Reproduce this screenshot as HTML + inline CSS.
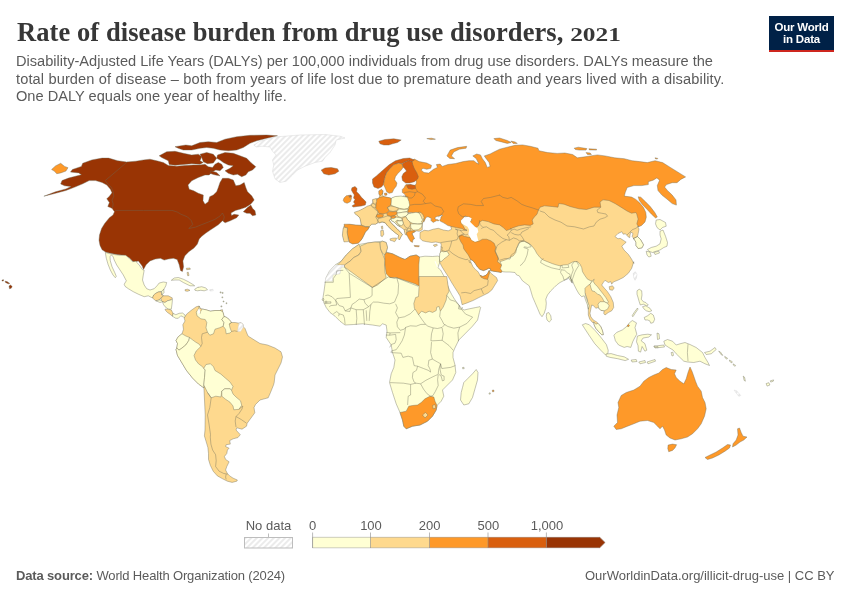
<!DOCTYPE html>
<html><head><meta charset="utf-8">
<style>
html,body{margin:0;padding:0;background:#fff;}
body{width:850px;height:600px;overflow:hidden;position:relative;font-family:"Liberation Sans",sans-serif;}
.title{position:absolute;left:16.8px;top:16.8px;font-family:"Liberation Serif",serif;font-weight:bold;font-size:26.5px;line-height:30px;color:#373737;white-space:nowrap;letter-spacing:0.078px;}
.sub{position:absolute;left:16px;top:53.2px;font-size:14.62px;line-height:17.6px;color:#5b5b5b;white-space:nowrap;}
.logo{position:absolute;left:769px;top:16px;width:65px;height:36px;background:#002147;border-bottom:2.7px solid #ce261e;box-sizing:border-box;color:#fff;font-weight:bold;font-size:11.5px;line-height:12px;text-align:center;padding-top:4.7px;letter-spacing:-0.2px;}
.foot{position:absolute;top:568.2px;font-size:13px;line-height:16px;color:#5b5b5b;white-space:nowrap;}
svg{position:absolute;left:0;top:0;will-change:transform;}
.title,.sub,.foot,.logo{will-change:transform;}
.lg text{font-size:13px;fill:#5b5b5b;font-family:"Liberation Sans",sans-serif;}
</style></head><body>
<div class="title">Rate of disease burden from drug use disorders, <span style="display:inline-block;font-size:25.4px;line-height:30px;transform-origin:0 77.8%;transform:scaleY(0.78);letter-spacing:0">2021</span></div>
<div class="sub">Disability-Adjusted Life Years (DALYs) per 100,000 individuals from drug use disorders. DALYs measure the<br><span style="letter-spacing:0.12px">total burden of disease – both from years of life lost due to premature death and years lived with a disability.</span><br>One DALY equals one year of healthy life.</div>
<div class="logo">Our World<br>in Data</div>
<svg width="850" height="600" viewBox="0 0 850 600">
<defs>
<pattern id="hatch" width="4" height="4" patternUnits="userSpaceOnUse" patternTransform="rotate(45)"><rect width="4" height="4" fill="#fff"/><line x1="2" y1="0" x2="2" y2="4" stroke="#d8d8d8" stroke-width="1"/></pattern>
</defs>
<g stroke="#6a6a58" stroke-width="0.4" stroke-linejoin="round">
<path d="M358.8,244.5 367.5,243 375,242 382.5,241.2 386.2,242.5 387.5,247.5 386.2,252 392.5,253.8 400,257.5 405,259.5 410,256.2 416.2,255 419.5,257 425,256.2 432.5,256.5 437.6,256.1 439.4,256.5 440,261.8 437.9,267.6 440.6,270 443.5,275.3 446.5,280.6 447.6,285.3 449.4,290 451.8,294.7 454.7,299.4 458.2,304.1 460.6,307.1 461.8,308.8 464.1,310 469.4,308.8 475.3,307.6 480,306.7 480.6,307.4 479.4,312.4 477.6,320 472.5,326.2 465,333.8 458.8,340 454.5,348.8 453,352.5 453,357.5 455,365 455.8,372.5 452.5,380 447.5,385 442.5,390 443.8,396.2 441.2,401.2 437,405.5 436.2,410 432.5,416.2 427.5,421.2 420,425 412.5,426.2 406.2,428.8 403.8,426.2 402.5,420 400,412.5 396.2,403.8 392.5,392.5 389.5,382.5 391.2,373.8 393.8,367.5 395,360 392.5,352.5 391.2,345 386.2,337.5 387,331.2 386.2,325 382.5,323.8 380,326.2 372.5,325 362.5,323.8 353.8,324.5 345,325 340,321.2 335,316.2 330,312.5 326.2,307.5 323.8,302.5 323,297.5 324.2,290 325,283.8 326.2,277.5 329.5,271.2 335,265 341.2,261.2 346.2,255 352.5,248.8Z" fill="#ffffd4"/>
<path d="M358.8,244.5 352.5,248.8 346.2,255 341.2,261.2 337.5,265 344.5,265 350,261.2 353.8,257.5 358.8,255 361.2,251.2 360,246.2Z" fill="#fed98e"/>
<path d="M337.5,265 335,265 329.5,271.2 326.2,277.5 325,281.2 332.5,281.2 333,275 340,273.8 341.2,267.5 344.5,267 344.5,265Z" fill="url(#hatch)" stroke="#cfcfcf"/>
<path d="M360,246.2 361.2,251.2 358.8,255 353.8,257.5 350,261.2 344.5,265 344.5,267 372.5,287.5 377.5,285 386.2,277.5 385,272.5 384.5,265 385,260 382.5,253.8 380.5,248.8 380,242.5 375,242 367.5,243Z" fill="#fed98e"/>
<path d="M380,242.5 382.5,241.2 386.2,242.5 387.5,247.5 386.2,252 384.5,255 382.5,253 380.5,248.8Z" fill="#fed98e"/>
<path d="M386.2,252.5 392.5,253.8 400,257.5 405,259.5 410,256.2 416.2,255 419.5,257 418.8,265 418.8,277.5 419.5,286.2 415,283.8 396.2,277.5 390,277.5 386.2,273.8 385,265 385,260 384.5,255.5Z" fill="#fe9929"/>
<path d="M419.1,276.5 446.8,276.5 447.9,284.7 449.1,291.2 446.8,295.3 446.2,300 443.2,307.1 440.3,311.2 439.1,306.5 436.8,307.1 436.2,310.6 432.6,312.4 429.1,311.2 425.6,312.9 421.5,311.2 418.5,314.7 416.8,311.8 414.4,308.2 413.8,303.5 415.6,297.6 418.5,296.5 419.1,285.9Z" fill="#fed98e"/>
<path d="M400,412.5 406.2,411.2 408.8,406.2 412.5,405.5 417.5,405 421.2,402.5 425,398.8 430,396.2 433.8,397 435,401.2 437,405.5 436.2,410 432.5,416.2 427.5,421.2 420,425 412.5,426.2 406.2,428.8 403.8,426.2 402.5,420Z" fill="#fe9929"/>
<path d="M422.5,415 425.5,412.5 428,415 425,418Z" fill="#fed98e"/>
<path d="M432.5,405.5 435,404.5 435.8,408 433.2,408.8Z" fill="#fed98e"/>
<path d="M463.8,382.5 467.5,378.8 472.5,373.8 476.2,369.5 478,372.5 477.5,380 475,388.8 472.5,397.5 468.8,403.8 463.8,405 460.5,400 461.2,392.5 462.5,387.5Z" fill="#ffffd4"/>
<path d="M435.1,261.2 436.2,264.1 437.6,267.4" fill="none" stroke="#fff" stroke-width="1"/>
<path d="M420,232.5 424.2,230.3 428.3,230.8 433.3,229.2 438.3,228.3 443.3,230 448.3,230.8 451.7,229.2 450.8,226.7 470,215 500,212 540,198 600,195 635,205 641,220 639,226 637.5,226 639,229 638.2,233.5 637.5,236.5 640.5,239.5 643.5,244.8 642,247.8 638.2,248.5 636,245.5 636,242.5 634.5,239.5 632.2,236.5 633,233.5 630.8,232 630,235 629.7,237.7 627.8,236.5 625.5,233.8 623.2,234.2 621.8,231.7 618,233.5 615,236.5 618,238.8 620.2,238.3 623.2,240.2 626.2,242.2 621.8,246.2 624,250 628.5,254.5 631.5,259 633.8,263.5 633.7,261.7 631.7,268.3 628.3,273.3 623.3,277.5 618.3,280 613.3,282 611.7,284.2 610.8,281.7 608.3,282.5 605.8,280.8 605,280.3 603.3,282.5 601.7,285 604.2,288 607.5,291.7 610.8,296.7 613.3,302.5 613.7,307.5 611.7,310.8 608.3,312.5 605,315 603.7,313.3 604.2,310.8 600.8,310.3 598.7,308 598,307.5 595.8,308.3 593.7,305.8 591.7,305 590.8,309.2 590,313.3 590.8,316.7 593.3,320 596.7,322 598,323.3 600.8,326.7 602.5,330.8 603.3,334.7 601.7,334.7 598.7,331.7 595.8,328.3 594.2,325 593.7,322 592.5,322.5 589.7,319.2 588.3,315 588.3,309.2 587.5,300 585,293.3 580,286.7 575.8,278.3 573.3,270 570,268.3 540,268.3 510,268.3 503.8,268.2 501.2,272.4 497.6,271.8 493.5,271.2 490.6,270.6 490.6,268.8 488.8,268.2 486.5,269.4 483.5,270.6 480,269.4 477.6,267.1 475.3,263.5 472.9,260.6 470.6,259.4 470,260 471.2,262.9 472.9,266.5 475.3,269.4 477.6,271.2 478.8,272.9 480,275.3 482.9,276.5 485.9,275.3 487.6,273.5 489.4,270.6 490.6,272.9 493.5,275.3 496.5,277.6 497.6,280.6 494.7,285.3 491.8,290 488.2,292.9 483.5,295.3 478.8,297.6 472.9,300.6 467.1,302.9 462.1,304.7 461.2,300.6 460,295.9 457.1,291.2 454.1,286.5 451.2,281.8 448.2,276.5 444.7,271.2 441.8,266.5 439.4,261.8 439.8,257.1 440.8,250 441.3,245 440.8,243 435.8,242 431.7,242.5 426.7,241.7 422.5,240.8 420,238.3Z" fill="#fed98e"/>
<path d="M459.2,235.8 461.7,234.7 464.2,236.3 467.5,237 470,237.5 471.7,240.3 475,242 478.7,241.3 482.5,239.2 486.7,239.2 490.8,240.8 494.2,243.3 495.8,247.5 495,250.8 496.7,255 498.3,258.3 497.5,261.7 500.8,264.2 503.3,267.5 502.5,270.8 503.8,268.2 501.2,272.4 497.6,271.8 493.5,271.2 490.6,270.6 490.6,268.8 488.8,268.2 486.5,269.4 483.5,270.6 480,269.4 477.6,267.1 475.3,263.5 472.9,260.6 470.6,259.4 468.3,255 465.8,251.7 463.7,248.7 463,245 460.8,241.7 459.2,238.3Z" fill="#fe9929"/>
<path d="M480,275.3 482.9,276.5 485.9,275.3 487.6,273.5 489.2,270.2 489.6,272.9 488.8,275.3 487.6,279.4 484.1,278.8 481.2,277.3Z" fill="#fe9929"/>
<path d="M439.8,253.5 441.2,251.2 443.5,251.8 447.1,251.2 449.2,254.7 446.5,257.1 444.1,258.8 441.8,261.2 440,261.8 439.4,258.2Z" fill="#ffffd4"/>
<path d="M433.3,245 436.7,244.2 437.5,245.3 434.7,246.7Z" fill="#fed98e"/>
<path d="M502.5,271.7 500.3,268.7 501.7,265 500,261.7 505,260 510,257.5 513.3,255.8 515.8,252.5 516.7,248.3 518.3,244.2 520.8,241.7 524.2,241.3 527.5,243 530.8,244.7 532.5,246.7 535,250 536.7,253.3 540,257.5 543.3,260 547.5,261.7 552.5,263.7 556.7,265 560,265.8 563.3,265 567.5,264.7 570.8,263 573.3,261.7 576.7,262 578.3,264.2 575.8,266.7 574.2,270 573.3,274.2 572.5,278.3 571.7,282.5 570,280 568.3,277.5 565.8,279.2 563.3,280.8 560,282.5 556.7,285 554.2,287.5 550.8,290.8 547.5,295 545.8,299.2 546.3,303.3 545.8,308.3 544.2,313.3 542,316.7 540,314.2 537.5,308.3 535,302.5 532.5,296.7 530.8,290.8 529.2,285.8 525.8,283.3 522.5,280.8 520.8,278.3 519.2,275.8 516.7,275 515,272.5 510,272 505.8,272Z" fill="#ffffd4"/>
<path d="M546.7,313.3 548.7,312.5 550.8,315.8 551.3,320 549.2,322 547,320 546.3,316.3Z" fill="#ffffd4"/>
<path d="M571.7,265 574.2,261.7 577.5,261.7 580,264.2 581.7,267.5 582.5,271.7 585,275.8 587.5,279.2 590.8,280.8 592.5,280.8 590,284.2 587.5,285.8 585,288.3 585,292.5 585.8,296.7 587.5,301.7 589.2,305.8 588.3,309.2 587.5,305 585.8,300.8 584.2,295.8 581.7,296.7 579.2,294.2 576.7,290 574.2,285 572.5,280.8 570.8,278.3 571.7,274.2 573.3,270Z" fill="#ffffd4"/>
<path d="M590,284.2 592.5,280.8 594.2,279.2 593.3,281.7 595,284.2 597.5,286.7 600,290 603.3,294.2 605.8,297.5 608.3,301.7 607.5,303.3 604.2,301.7 602.5,298.3 600,295 597.5,294.2 595,291.7 592,290.8 590.8,287.5Z" fill="#ffffd4"/>
<path d="M598,304.2 600,301.7 604.2,301.7 607.5,303.3 609.2,305.8 607.5,309.2 604.2,310.8 600.8,310.3 598.7,308Z" fill="#ffffd4"/>
<path d="M593.7,322 595.8,324.2 598,323.3 600.8,326.7 602.5,330.8 603.3,334.7 601.7,334.7 598.7,331.7 595.8,328.3 594.2,325Z" fill="#ffffd4"/>
<path d="M609.2,286.7 612.5,285.8 614.2,288 612.5,290.3 609.7,289.7Z" fill="#fed98e"/>
<path d="M633.3,273.3 635.3,271.7 637,274.2 636.3,278.3 635,280.3 633.7,277.5Z" fill="url(#hatch)" stroke="#cfcfcf"/>
<path d="M582.3,324.8 585.6,323.5 589.4,324.8 595.1,330.5 600.7,337.1 606.4,344.6 608.2,350.2 607.9,353.6 605.4,354.9 600.7,350.2 594.7,343.6 589,335.2 584.7,328.6Z" fill="#ffffd4"/>
<path d="M606,354 611.1,353.6 617.6,355.5 624.2,356.8 628.6,359.3 625.2,360.6 617.6,358.7 610.1,357.4 606.4,356.3Z" fill="#ffffd4"/>
<path d="M613.9,335.2 616.7,332.4 622.4,329.9 627.1,326.1 629.3,322.9 632.3,320.5 636.5,322.9 635,327.6 636.8,334.2 634.6,338 632.7,341.8 630.8,347.4 627.1,346.5 624.2,347.4 618.6,345 615.4,340.8Z" fill="#ffffd4"/>
<path d="M627.1,325.8 628.6,324.4 629.5,325.8 628,326.9Z" fill="#fe9929"/>
<path d="M637.4,336.1 642.1,334.8 647.8,334.2 651.5,334.8 648.7,337.1 643.1,338 641.2,340.8 644.9,343.6 646.8,350.2 644.9,351.2 642.1,346.5 640.6,352.1 638.4,351.2 638,345.5 636.5,341.8Z" fill="#ffffd4"/>
<path d="M657,333 659,333.8 659.5,338.8 657.5,339.5Z" fill="#ffffd4"/>
<path d="M653.8,346.2 663.8,345 664.5,347 655,348Z" fill="#ffffd4"/>
<path d="M632,315.8 634.7,311.7 637.5,308 638,309.2 635.3,313 633,316.7Z" fill="#ffffd4"/>
<path d="M637,290.8 639.2,289.2 641.7,290.8 642,295 641.3,299.2 643.3,301.7 645.8,302.5 648.3,305 646.7,305.8 643.3,304.2 640.3,305 639.2,301.7 638,297.5 637,294.2Z" fill="#ffffd4"/>
<path d="M642.5,306.7 645.8,305.8 650,308.3 651.7,310.8 649.2,311.7 646.3,310.8 644.2,309.2Z" fill="#ffffd4"/>
<path d="M644.2,317.5 647.5,315.8 650.8,313.3 653.3,315 654.7,319.2 653.3,322.5 650.8,323.3 649.7,320.8 647.5,320 645,320Z" fill="#ffffd4"/>
<path d="M631.2,360 636.2,359.5 637,361.5 632,362Z" fill="#ffffd4"/>
<path d="M638.8,362 645,360.5 645.5,362.5 640,363.8Z" fill="#ffffd4"/>
<path d="M647,362 655,359.5 655.5,361.2 648,363.8Z" fill="#ffffd4"/>
<path d="M663.8,341.2 667.5,339.5 672.5,341.2 676.2,345 680,343.8 685,342.5 690,344.5 696.2,347.5 702.5,352.5 705,357.5 708,362.5 709.5,365.5 705,363.8 700,361.2 693.8,362.5 687.5,362 683.8,361.2 680,357.5 676.2,353.8 673,350 668.8,347.5 665,345Z" fill="#ffffd4"/>
<path d="M704.5,352.5 710,351.2 715,347.5 716.2,349.5 711.2,353.8 706.2,354.5Z" fill="#ffffd4"/>
<path d="M613.8,426.2 617.5,422.5 617,415 618.8,407.5 618,402.5 621.2,395.5 626.2,392.5 633.8,390 640,386.2 643.8,381.2 648.8,377.5 653.8,375 658.8,373 662.5,369.5 666.2,367.5 671.2,369.5 676.2,370 674.5,373.8 676.2,377.5 680,381.2 683.8,383.8 686.2,378.8 688,372.5 690,367 692,371.2 693.8,376.2 695.5,381.2 697.5,386.2 701.2,391.2 702.5,397.5 705,402.5 706.2,408.8 704.5,416.2 701.2,423.8 697.5,428.8 692.5,433.8 687.5,437 681.2,438.8 675,440 670,438 666.2,435 664.5,430 662.5,426.2 660,428.8 657.5,426.2 653.8,422.5 647.5,420.5 640,421.2 633.8,423.8 627.5,426.2 621.2,428.8 616.2,429.5Z" fill="#fe9929"/>
<path d="M668.1,445.1 672.5,444.1 676.6,444.7 674.9,448.1 672.5,450.4 668.7,451.7 667.8,448.5Z" fill="#fe9929"/>
<path d="M737.5,428.8 739.5,428 741.2,432.5 743,436.2 747,437 743.8,440 740,442 736.2,445 732.5,447 733,443.8 736.2,440 738,435Z" fill="#fe9929"/>
<path d="M705,457.5 710,455 716.2,452 722.5,448 727.5,444.5 730.5,445 729.5,448 725,451.2 718.8,455 712.5,458 707.5,459.5Z" fill="#fe9929"/>
<path d="M656.2,220 660,219.5 665.5,222.5 666.2,226.2 662.5,227.5 660,230 657,227.5 655.5,223.8Z" fill="#ffffd4"/>
<path d="M660,231.2 663,230 665.5,236.2 667.5,242.5 667,246.2 663.8,247.5 660,250 656.2,251.2 652.5,252.5 648.8,251.2 647.5,249.5 651.2,247.5 656.2,246.2 660,243.8 661.2,238.8 660,235Z" fill="#ffffd4"/>
<path d="M653.8,252.5 658.8,251.2 659.5,253 655,254.5Z" fill="#ffffd4"/>
<path d="M646.2,251.2 650,252 651.2,256.2 648.8,257 647,255Z" fill="#ffffd4"/>
<path d="M633,238.8 637.5,236.5 640.5,239.5 643.5,244.8 642,247.8 638.2,248.5 636,245.5 636,242.5 634.5,239.5Z" fill="#ffffd4"/>
<path d="M414.4,159.1 419.2,161.6 426.8,163 431.6,165.4 430.7,168.3 426.8,169.3 423,168.3 421.1,169.9 424,172.5 428.7,173.1 433.5,169.3 437.4,167.4 436.4,164.5 440.2,164.1 442.2,166.4 447.9,164.5 455.6,163.5 463.2,161.6 469,160.7 473.8,160.7 476.6,163 478.9,164.1 476.3,158.7 472.8,155.9 476.6,154 480.5,154.9 482.4,158.7 485.3,162.6 487.2,167.4 490.1,166.4 489.1,162.6 486.2,158.7 484.3,155.9 490.1,154 493.9,152 499.6,149.2 507.3,147.2 515,145.3 522.6,144.9 530.3,146.3 538,148.2 538.9,150.7 547.7,152.6 557.2,153.4 564.9,153 572.6,154.5 577.4,157.8 585,156.8 590.2,155.9 597.5,154.9 605.1,155.9 614.7,157.8 624.3,158.7 632,160.7 639.6,161.6 647.3,162.6 655,160.7 662.6,162.6 670.3,167.4 678,172.2 685.6,176.9 680.8,179.4 677,182.7 672.2,182.7 666.5,184.6 664.6,187.1 667.4,190.4 672.2,195.1 676,199.9 676.4,205.1 672.2,203.6 666.9,199 661.9,195.1 658,190.6 657.3,185.6 659.6,180.2 656.9,177.9 653.1,180.2 648.3,181.7 648.3,184.6 641.6,185.6 633.9,185.6 627.2,187.5 625.3,192.3 624.3,196.1 631.6,197.1 635.8,199.4 639.6,202.8 643.5,207.6 645.8,212.4 646.3,217.2 645,222 641.6,225.4 638.7,226.8 636.8,223.9 638.1,219.1 636.8,214.3 636,212.5 631.5,213.2 627,211 621,207.2 615,203.5 609,200.5 603,199.8 600,202 600.8,207.2 594,207.2 586.5,209.5 579,208.8 570,206.5 564,204.2 558.8,203.5 558,207.2 552,206.5 544.5,205.8 540,207.2 538.3,210.5 537,214.3 534.1,217.2 532.2,220.1 533.2,223.9 530.3,225.4 524.6,224.9 518.8,225.8 513.1,227.7 509.2,229.6 506.3,230.6 503.5,227.7 499.6,224.9 493.9,223.9 488.1,221.6 482.4,220.4 479.5,222 478.6,225.8 475.7,227.7 473.8,225.8 471.3,224.9 469.4,222.9 471.9,220.1 469.9,217.2 465.1,216.2 461.3,220.1 460.9,222.9 463.2,225.8 465.1,229.6 467,230.3 463.8,229.7 462.1,228.5 459.7,228.2 456.2,227.6 451.5,226.5 447.9,225.6 445.6,224.1 443.2,222.6 440.9,221.5 439.7,220.4 440.9,218.2 440.9,216.8 442.4,215.9 442.6,215.1 440.9,215.3 439.1,215.9 436.8,216.5 435,217.6 435,218.8 436.2,219.4 437.9,219.7 438.8,220.4 438.5,220.9 436.8,220.6 435,221.5 433.2,222.4 431.8,221.2 430.6,220 431.8,219.1 430.9,218.2 428.8,217.1 426.8,216.8 425.3,218.8 424.4,220.9 423.8,222.1 422.1,219.7 419.2,216.2 416.3,214.3 411.5,212.4 407.7,212.4 405.7,207.6 406.7,203.8 406.1,200.9 405.7,198 405.4,195.1 403.8,193.6 402.3,192.5 402.3,189.4 404.2,187.5 405.2,185.6 406.1,184.4 409.6,184.6 414.4,185.6 415.7,184.6 416.3,183.3 416.3,181.4 415.3,179.4 416.3,176 414.4,171.2 413.4,167.4 411.9,163.5 411.5,160.7Z" fill="#fe9929"/>
<path d="M446.9,155.9 450.2,150.1 457.5,147.6 466.7,146.3 466.1,148.2 459.4,149.2 453.7,152 451.4,155.9 454.6,158.7 449.8,158.4Z" fill="#fe9929"/>
<path d="M493.9,138.6 499.6,138 507.3,140.5 511.1,142.5 507.3,143.4 501.6,141.9 495.8,140.5Z" fill="#fe9929"/>
<path d="M510.8,141.1 515,141.9 517.3,143.4 513.1,143.4Z" fill="#fe9929"/>
<path d="M426.8,138.6 431.6,138.2 435.4,139.2 430.7,139.6Z" fill="#fe9929"/>
<path d="M638.2,196.8 640.8,197.2 645.8,202 650.2,206.5 654.8,212.5 657.3,217 655.5,217.9 651.3,214 647.2,209.5 642.8,205 639.3,200.5Z" fill="#fe9929"/>
<path d="M574.1,148.2 578.3,147.2 586.9,148.6 586,150.1 579.3,150.1 575.4,149.5Z" fill="#fe9929"/>
<path d="M588.9,148.8 596.5,149.2 596.5,150.1 589.4,149.9Z" fill="#fe9929"/>
<path d="M586,152.6 590.2,153 591.4,154.5 587.5,154.5Z" fill="#fe9929"/>
<path d="M655,157.8 657.8,158.4 657.3,159.1 655.4,158.7Z" fill="#fe9929"/>
<path d="M344,225.8 349.5,224.6 355.8,225.4 361.4,225.4 360.9,221 360.1,217.8 357.7,215.8 355.5,213.4 359,211.5 363.8,208.8 367.7,206.8 370.9,205.6 372.8,202.3 372.9,200.1 376.4,199 379.6,197.9 379.6,194.1 379.3,191.4 381.5,190 382.8,191.2 382.4,194.4 383.5,196.9 387.5,197.7 391.5,198.5 395.4,196.9 401,196.5 407.3,197.7 408.4,202 408.9,208.3 407.8,211.5 408.1,214.2 411.3,213.4 416,212.6 420,213.4 422.3,216.3 423.9,219.4 422.3,224.2 422.3,229.7 419.2,231.3 416,230.8 414.1,232.4 412,233.2 412.8,236 414.1,238.9 412,239.5 410,238.1 408.4,235.3 405.6,234.1 404.4,230 402.5,228.4 400.2,226.9 397.3,225.1 394.2,222.1 391.8,220.8 391,218.9 389.4,220.4 391,222.6 394.2,225.8 397.3,228.9 400.5,232.1 402.2,234.5 400.8,236.5 399.5,239.4 398.3,238.1 398.9,235.3 395.7,233.2 391.8,230 387.8,226.1 385.3,222.9 382.1,222.1 379.7,222.9 378,222.6 375.6,223.9 371.7,223.9 369.5,226.4 367.9,229.4 365.5,231.9 363.9,235.1 362.3,238.3 360.7,240.5 358.4,242.7 353,243.5 349.8,242.1 348.2,236.8 344,240 342.9,235.3 343.5,228.4Z" fill="#fed98e"/>
<path d="M372.5,179 376.4,175.9 382.8,170.3 389.1,164.8 395.4,160.8 403.3,158.5 409.7,158 414.4,160 412,161.6 408.1,160.8 404.1,162.4 401.8,163.7 398.6,163.2 393.8,164.8 389.9,168.8 386.7,172.7 385.1,176.7 384.3,180.6 383.5,184.6 381.5,187 378,188.5 374,187 372.5,183Z" fill="#d95f0e"/>
<path d="M401.8,163.7 403.3,167.2 401,170.3 397.8,173.5 395.4,176.7 394.6,179.8 397,183 396.2,186.2 393.8,189.3 392.3,192.5 389.1,193.3 386.7,191.7 385.1,187.8 383.5,184.6 384.3,180.6 385.1,176.7 386.7,172.7 389.9,168.8 393.8,164.8 398.6,163.2Z" fill="#fe9929"/>
<path d="M404.1,162.4 408.1,160.8 412,161.6 412.8,164.8 414.4,168.8 416.8,172.7 418.4,176.7 417.6,179 414.4,181.7 409.7,183 405.7,183 402.5,180.6 401.8,176.7 403.3,173.5 406.5,171.1 404.9,168.8 403.3,167.2 402.1,164Z" fill="#d95f0e"/>
<path d="M406.5,185.4 410.5,184.6 415.2,185.4 415.7,188.5 412,189.3 408.1,188.5Z" fill="#d95f0e"/>
<path d="M378.8,190.9 381.5,189.3 383.1,190.9 382.4,194.1 380.4,195.7 378.8,194.1Z" fill="#fe9929"/>
<path d="M384.3,193.3 386.7,193 387,195 384.8,195.4Z" fill="#fe9929"/>
<path d="M351.9,187.8 355,186.5 357.1,188.5 356.6,191.7 359,194.1 361.4,197.3 363.8,199.6 366.1,202 365.3,204.9 361.4,206 357.4,206.4 353.5,207.1 351.9,206 355,203.9 353.5,202 355,199.6 353.5,198 354.3,194.9 352.7,192.5 351.4,190.1Z" fill="#d95f0e"/>
<path d="M348.7,195.4 351.1,195 351.7,196.9 349.5,197.6Z" fill="#d95f0e"/>
<path d="M344,198 346.3,195.7 348.7,195.4 349.5,197.6 351.4,197.3 351.4,198.8 350.3,201.7 347.1,203.3 344.4,202.3 343.2,200.4Z" fill="#fe9929"/>
<path d="M354.3,212.3 359,210.7 363.8,208.3 367.7,206 370.9,205.2 373.3,207.5 375.6,209.9 378,211.5 377.2,214.7 375.6,217 377.2,219.4 378,222.6 375.6,224.2 371.7,224.2 369.3,226.5 365.3,226.5 361.4,225 360.6,221 359.8,217.8 357.4,215.5 355,213.9Z" fill="#fed98e"/>
<path d="M344,224.2 349.5,224.2 355.8,225 361.4,225.4 365.3,226.9 369.3,227 367.7,229.7 365.3,232.1 363.8,235.3 362.2,238.4 360.6,240.8 358.2,243.2 352.7,244 349.5,242.4 347.9,236.8 347.1,232.1 347.6,228.1 344.8,227.3Z" fill="#fe9929"/>
<path d="M343.2,228.1 344.8,227.3 347.6,228.1 347.1,232.1 347.9,236.8 348.7,241.6 344,241.9 342.4,235.3Z" fill="#fed98e"/>
<path d="M376.7,199.6 379.6,197.3 383.5,196.5 387.5,197.3 390.7,198 391.5,202 390.7,205.2 387.5,207.5 389.1,210.7 386.7,213.1 382.8,213.9 378.8,213.4 377.7,210.7 375.6,208.3 376.1,204.4 375.6,201.2Z" fill="#fe9929"/>
<path d="M372.5,199.6 376.4,198.5 376.7,201.2 375.6,204.4 373.3,203.6Z" fill="#fed98e"/>
<path d="M370.9,204.4 373.3,203.6 375.6,204.9 375.6,207.5 372.5,207.1Z" fill="#fed98e"/>
<path d="M391.5,198 395.4,196.5 401,196 407.3,197.3 408.9,201.2 409.7,205.2 408.1,208.3 404.1,209.1 399.4,208.3 394.6,206.8 391,205.2Z" fill="#ffffd4"/>
<path d="M387.5,207.5 390.7,206 394.6,206.8 398.6,208.3 396.2,210.7 393,211.5 389.4,210.7Z" fill="#fed98e"/>
<path d="M386.7,213.4 389.1,211.5 393,211.8 396.7,211.5 397,213.9 394.6,215.5 390.7,216.3 387.5,215.5Z" fill="#fe9929"/>
<path d="M376.7,214.7 380.4,213.9 383.5,214.7 382.8,217 378.8,217.8 376.4,217Z" fill="#fe9929"/>
<path d="M396.7,211.2 399.4,209.1 404.1,209.6 408.1,209.1 407.3,211.5 402.5,212.3 397.8,213.1Z" fill="#ffffd4"/>
<path d="M397,213.9 397.8,213.1 402.5,212.3 407.3,211.8 408.1,213.9 405.7,216.3 401,217.5 397.8,216.3Z" fill="#ffffd4"/>
<path d="M390.7,216.6 394.6,215.8 396.2,217 393.8,218.6 391,218.2Z" fill="#fe9929"/>
<path d="M391,218.6 393.8,218.6 396.2,217.2 401,217.8 402.5,220.2 399.4,220.7 397,220.2 395.4,221.8 397.8,224.2 400.2,226.5 397,225 393.8,221.8 391.5,220.7Z" fill="#ffffd4"/>
<path d="M378,218.6 382.8,217.5 387.5,215.9 390.7,216.6 391,218.6 389.1,220.2 390.7,222.6 393.8,225.8 397,228.9 400.2,232.1 402.5,234.5 401,236.8 399.4,240 397.8,238.4 398.6,235.3 395.4,232.9 391.5,229.7 387.5,225.8 385.1,222.6 382,221.8 379.6,222.6 378,221Z" fill="#fed98e"/>
<path d="M380.7,230.7 383.3,230.3 383.8,234.2 382.4,236.6 380.9,236.1Z" fill="#fed98e"/>
<path d="M381.2,226.5 382.5,226 382.9,228.6 381.9,229.5Z" fill="#fed98e"/>
<path d="M389.9,238.9 392.7,238.2 396.5,238 396,239.9 394.6,241.8 392.2,240.8 390.4,240.4Z" fill="#fed98e"/>
<path d="M414.1,245.4 419.4,245.8 418.8,246.8 414.7,246.5Z" fill="#fe9929"/>
<path d="M408.1,213.9 411.3,213.1 416,212.3 420,213.1 422.3,216.3 423.9,219.4 421.5,221 422.3,223.4 417.6,223.9 412.8,223.4 409.7,221.8 407.3,219.4 405.7,216.6Z" fill="#ffffd4"/>
<path d="M410.5,223.9 414.4,223.9 419.2,224.2 422.3,223.9 421.5,227.3 418.4,229.7 413.6,230.2 410.9,228.1Z" fill="#ffffd4"/>
<path d="M402.5,218.2 405.7,216.6 407.3,219.4 409.7,221.8 410.5,223.9 409.7,226.5 407.3,228.1 404.9,226.5 403.3,223.4 402.5,220.7Z" fill="#fed98e"/>
<path d="M397,220.7 399.4,221 402.5,220.7 403.3,223.4 401.8,225.8 399.4,225 397.3,222.9Z" fill="#ffffd4"/>
<path d="M404.1,229.7 406.2,228.9 406.8,231.8 407.3,235.3 405.2,234.5Z" fill="#fed98e"/>
<path d="M407.3,228.6 410.5,228.1 410.9,230.2 407.8,231.3Z" fill="#fed98e"/>
<path d="M406.5,232.5 408.2,231.5 411.1,230.9 414.4,230.6 415.3,231.5 412.9,232.5 412,233.9 413.4,236.2 414.6,238.6 412.9,239.5 412.5,242.4 410.6,241.4 408.7,238.6 407.3,235.8 406.4,233.9Z" fill="#fe9929"/>
<path d="M404.1,192.5 409.7,191.7 415.2,192.5" fill="none"/>
<path d="M415.2,192.5 414.4,195.7 412,198 409.7,198" fill="none"/>
<path d="M415.7,188.5 417.6,191.7 415.2,192.5" fill="none"/>
<path d="M403.3,195.7 407.3,196.5 409.7,198" fill="none"/>
<path d="M417.6,191.7 422.3,194.1 425.5,198 423.1,201.2 425.5,203.6" fill="none"/>
<path d="M409.7,205.2 414.4,204.4 420.8,204.4 425.5,203.6" fill="none"/>
<path d="M425.5,203.6 431,202.8 435,206 441.3,207.5 443.7,211.5 441.3,214.7 438.2,217" fill="none"/>
<path d="M418.5,212.1 420.9,212.4 423.2,215 424.1,217.6 423.8,219.1 422.1,219.4 421.2,216.8 420,214.4Z" fill="#fed98e"/>
<path d="M343.3,270.3 336.8,270.9 336.2,274.4 333.3,278.5 333.3,282.3 324.5,282.3" fill="none"/>
<path d="M344.1,266.8 349.2,273.2 350.4,297.4 336.8,298.5 335.6,300.3" fill="none"/>
<path d="M335.6,300.3 332.1,296.8 328,295 325.3,295.6" fill="none"/>
<path d="M349.2,273.2 372.1,287.4 388.6,276.8" fill="none"/>
<path d="M372.1,287.4 372.1,295.6 369.8,297.4 363.9,299.7" fill="none"/>
<path d="M363.9,299.7 359.2,299.1 355.6,302.1 352.1,304.4 350.9,307.9" fill="none"/>
<path d="M350.9,307.9 349.8,311.5 345.1,310.9 343.3,306.8 339.2,305.6 335.6,300.3" fill="none"/>
<path d="M396.8,277.9 398.6,284.4 398,293.8 394.5,302.1" fill="none"/>
<path d="M394.5,302.1 389.8,303.8 383.9,303.2 378,302.1 373.3,302.1 370.9,304.4" fill="none"/>
<path d="M370.9,304.4 368.6,306.8 365.1,303.2 363.9,299.7" fill="none"/>
<path d="M388.6,276.8 394.5,278.5 396.8,277.9 418,286.2" fill="none"/>
<path d="M335.6,300.3 336.8,305 330.9,305.6 329.2,306.8" fill="none"/>
<path d="M324.5,302.1 330.9,301.8 330.9,303.2 324.5,303.5" fill="none"/>
<path d="M333.3,313.8 336.8,311.5 339.2,313.8 338.6,316.2" fill="none"/>
<path d="M339.2,313.8 343.3,315 344.5,318.5 345.1,324.4" fill="none"/>
<path d="M345.1,310.9 350.9,307.9 356.2,309.7 363.3,309.7 368.6,306.8" fill="none"/>
<path d="M356.2,309.7 356.8,318.5 356.2,325" fill="none"/>
<path d="M363.3,309.7 364.5,325" fill="none"/>
<path d="M366.2,310.3 366.8,320.9" fill="none"/>
<path d="M370.9,304.4 369.8,311.5 369.2,320.9" fill="none"/>
<path d="M446.8,295.3 450.3,300 455,301.2 459.1,305.3 460.3,308.8" fill="none"/>
<path d="M459.1,305.3 458.5,308.8 461.5,309.4 462.6,307.1" fill="none"/>
<path d="M461.5,309.4 465.6,314.1 472.6,317.1 466.8,323.5 459.7,327.1" fill="none"/>
<path d="M459.7,327.1 453.8,328.2 447.9,326.5 443.8,324.1" fill="none"/>
<path d="M440.3,311.2 439.7,316.5 442.1,320.6 443.8,324.1" fill="none"/>
<path d="M459.7,327.1 457.9,332.9 458.5,341.2" fill="none"/>
<path d="M391.2,352.6 401.2,353.2 402.9,357.4 408.2,356.2 412.4,357.4 414.1,365.6 417.6,366.2" fill="none"/>
<path d="M417.6,366.2 416.5,370.3 412.9,372.6 412.4,377.4 414.1,382.1 415.9,383.2" fill="none"/>
<path d="M390,382.6 403.5,383.2 410.6,384.4 415.9,383.2 420.6,383.8" fill="none"/>
<path d="M417.6,366.2 423.5,368.5 428.2,370.3 430.6,372.1 430,369.1 428.2,365.6 428.8,360.3 432.4,359.1" fill="none"/>
<path d="M432.4,359.1 430.6,352.6 431.2,346.8 431.5,342.1" fill="none"/>
<path d="M441.8,368.5 450.6,367.4 455.3,365.6" fill="none"/>
<path d="M432.4,359.1 437.6,362.1 440.6,363.8 441.8,368.5" fill="none"/>
<path d="M440.6,363.8 440,369.1 441.2,375 444.1,376.2 444.1,380.3 442.4,380.9 441.2,376.2 438.2,373.8 438.8,369.1 440.6,363.8" fill="none"/>
<path d="M420.6,383.8 425.9,380.3 430.6,377.9 435.3,375.6 438.2,374.4" fill="none"/>
<path d="M438.2,375 437.6,379.7 438.2,385.6 435.3,391.5 432.9,395.6" fill="none"/>
<path d="M420.6,383.8 423.5,389.1 427.1,393.8 430.6,396.2 432.9,395.6" fill="none"/>
<path d="M410.6,384.4 410.6,395 408.2,396.2 407.6,405" fill="none"/>
<path d="M395.6,303.8 397.4,307.9 395.6,312.6 398.5,317.9 396.8,322.1 397.4,326.8 400.3,330.3" fill="none"/>
<path d="M386.5,332.4 390.3,332.9 400.3,332.6" fill="none"/>
<path d="M385.8,335 389.7,335.2 390.1,332.9" fill="none"/>
<path d="M389.7,335.2 395.6,334.4 396.2,339.7 395,343.2 391.5,344.4 389.7,347.4" fill="none"/>
<path d="M400.3,330.3 404.4,329.1 405.6,327.4" fill="none"/>
<path d="M405.6,327.4 404.4,335 402.1,340.9 399.1,345.6 396.2,349.7 391.5,350.9 390.9,352.6" fill="none"/>
<path d="M398.5,317.9 404.4,316.8 410.3,313.8 415,309.1" fill="none"/>
<path d="M405.6,327.4 410.3,325.8 416.2,326.2 420.9,324.4 425.6,324.4 427.9,326.2 433.2,327.9" fill="none"/>
<path d="M418.5,314.4 422.1,319.7 425.6,324.4" fill="none"/>
<path d="M433.2,327.9 437.4,328.5 442.1,327.4 445,324.4" fill="none"/>
<path d="M433.2,327.9 431.5,333.8 430.9,340.9" fill="none"/>
<path d="M442.1,327.9 443.2,333.8 442.1,340.3" fill="none"/>
<path d="M430.9,340.9 442.1,340.3" fill="none"/>
<path d="M442.1,340.3 449.1,345.6 453.2,350.3" fill="none"/>
<path d="M499.4,195 502.9,197.4 507.6,198.5 511.2,197.4 517.1,200.9 521.8,204.4 526.5,206.2 532.4,207.9 537.6,209.7 539.4,210.3" fill="none"/>
<path d="M482.9,227.4 486.5,226.8 490,229.1 493.5,230.3 498.2,235 502.9,238.5 506.5,239.7" fill="none"/>
<path d="M479.4,220.3 480,224.4 482.9,227.4 481.2,229.1" fill="none"/>
<path d="M497.1,245.6 501.8,242.1 506.5,239.7" fill="none"/>
<path d="M506.5,239.7 509.4,240.3 508.8,236.8 507.1,235 509.4,233.2 511.2,230.3 510.6,227.9" fill="none"/>
<path d="M511.2,230.3 514.1,229.1 517.1,230.3 520.6,229.1 525.3,227.9 531.2,226.8" fill="none"/>
<path d="M511.2,232.6 514.7,234.4 518.2,235 520.6,234.4 521.8,232.1 525.3,230.3 528.8,228.5" fill="none"/>
<path d="M509.4,240.3 513.5,237.9 517.1,239.1 519.4,240.9 524.1,240.3 522.4,237.4 520.6,235" fill="none"/>
<path d="M499.4,260.3 505.3,258.5 510,259.1 511.2,255 514.7,252.6 516.5,248.5 518.2,245.6 519.4,242.1 524.1,240.9" fill="none"/>
<path d="M497.1,245.6 495.3,251.5 497.6,256.2 498.8,260.3" fill="none"/>
<path d="M524.1,240.9 528.8,243.2 531.2,246.8 527.6,247.4 524.1,246.8" fill="none"/>
<path d="M540,211 544.5,212.5 549,217 555,220 561,222.2 567,226 574.5,226.8 583.5,229 589.5,226.8 594,226 596.2,222.2 600,219.2 604.5,217.8 607.5,216.2 606,214 601.5,213.2 597.8,212.5 597,210.2 600.8,207.2" fill="none"/>
<path d="M639,226 636,228.2 632.2,229.8 629.2,232.8 627,235" fill="none"/>
<path d="M633,238.8 637.5,236.5" fill="none"/>
<path d="M543.5,258.5 541.2,260.3 540.6,262.6 545.9,265.6 551.8,267.9 560,269.7 560.6,265.6" fill="none"/>
<path d="M561.8,265 562.4,267.9 568.8,267.4 568.2,265" fill="none"/>
<path d="M561.2,269.7 560.6,272.6 562.9,276.2 564.1,280.3 567.6,279.1 569.4,276.2 571.8,280.9 572.4,283.2 570.6,278.5 570,274.4 567.1,272.6 564.7,270.3 561.2,269.7" fill="none"/>
<path d="M576.5,261.1 578.8,265.6 576.5,269.1 574.7,272.6 573.5,276.2 571.8,280.9" fill="none"/>
<path d="M523.5,247.4 528.2,249.1 527.1,255 524.7,260.9 521.2,265 520,265.6" fill="none"/>
<path d="M465.9,216.2 462.4,216.8 458.8,213.8 457.6,210.3 458.2,206.8 463.5,203.8 470.6,204.4 476.5,205.6 483.5,205.6 481.2,201.5 483.5,198.5 490.6,197.4 500,195" fill="none"/>
<path d="M455.3,229.1 457.6,230.3 457.1,233.8 458.2,236.8 457.1,239.7" fill="none"/>
<path d="M455.3,229.1 460,230.3 463.5,230.3 467.1,230.3" fill="none"/>
<path d="M460,230.3 462.4,232.6 464.1,235" fill="none"/>
<path d="M458.2,236.8 461.2,235.6 463.5,233.8 465.9,235 468.8,233.8" fill="none"/>
<path d="M440.6,242.6 447.1,241.5 451.8,240.9 457.1,239.7" fill="none"/>
<path d="M451.8,240.9 450.6,245.6 448.8,250.3 445.3,251.5" fill="none"/>
<path d="M448.8,250.3 452.9,253.8 458.8,257.4 465.9,259.7 468.2,259.1" fill="none"/>
<path d="M440.6,246.8 442.4,247.4 441.8,250.3 445.3,251.5" fill="none"/>
<path d="M461.2,292.9 465.3,292.4 470.6,293.5 474.1,290.6 481.2,288.8" fill="none"/>
<path d="M483.5,294.1 481.2,288.8 487.6,285.3 488.2,280.6 487.6,279.4" fill="none"/>
<path d="M468.8,260 469.4,262.4 471.2,262.9" fill="none"/>
<path d="M9,286 10.5,285 12.2,286.5 11.2,288.2 9.5,288.8Z" fill="#993404"/>
<path d="M5,281.2 7,281.6 9.8,283.4 8.2,283.8 5.5,282.4Z" fill="#993404"/>
<path d="M2,280 3.6,279.7 3.4,281 2,281.1Z" fill="#993404"/>
<path d="M688,344.1 687.4,352.6 688,361.1" fill="none"/>
<path d="M718.7,351.1 720.6,352.2 722.8,355.4 721.3,354.8Z" fill="#ffffd4"/>
<path d="M724.7,356.4 727.5,358.2 727,359.2 725.1,357.9Z" fill="#ffffd4"/>
<path d="M729.4,360.1 732.2,361.6 731.9,362.9 729.8,361.6Z" fill="#ffffd4"/>
<path d="M733.2,363.9 735.6,365.4 735.1,366.3 733.4,365.2Z" fill="#ffffd4"/>
<path d="M743.2,376.1 744.5,377.1 745.4,381.2 744.1,380.4Z" fill="#ffffd4"/>
<path d="M734.1,390.2 736.4,390.6 740.7,395.5 738.8,396.3Z" fill="url(#hatch)" stroke="#cfcfcf"/>
<path d="M766.1,383.6 768.9,382.7 769.9,385 767.1,386.1Z" fill="#ffffd4"/>
<path d="M770.3,380.8 773.6,379.9 773.3,381.2 770.8,382.1Z" fill="#ffffd4"/>
<path d="M671.1,352.6 672.9,352.2 673.5,355.4 672,356Z" fill="#ffffd4"/>
<path d="M654.1,346 657.9,346.6 658.1,347.7 654.7,347.3Z" fill="#ffffd4"/>
<path d="M220.1,291.9 221.1,291.9 221.1,292.9 220.1,292.9Z" fill="#ffffd4"/>
<path d="M222.1,292.4 223.1,292.4 223.1,293.4 222.1,293.4Z" fill="#ffffd4"/>
<path d="M221.9,296.9 222.8,296.9 222.8,297.8 221.9,297.8Z" fill="#ffffd4"/>
<path d="M223.1,301 224,301 224,301.9 223.1,301.9Z" fill="#ffffd4"/>
<path d="M226,302.8 226.9,302.8 226.9,303.7 226,303.7Z" fill="#ffffd4"/>
<path d="M220.9,305.9 221.9,305.9 221.9,306.9 220.9,306.9Z" fill="#ffffd4"/>
<path d="M198.2,286.8 198.8,290.3" fill="none"/>
<path d="M322,299 323.5,298.5 324,300 322.5,300.5Z" fill="#ffffd4"/>
<path d="M325,301.5 326.5,301 327,302.5 325.5,303Z" fill="#ffffd4"/>
<path d="M492.3,390.2 493.8,390 494,391.6 492.5,391.8Z" fill="#fe9929"/>
<path d="M462.5,367.5 464,367.3 464.2,368.6 462.7,368.8Z" fill="#ffffd4"/>
<path d="M489,393 490.2,392.8 490.4,394 489.2,394.2Z" fill="#ffffd4"/>
<path d="M43.9,196.2 55.5,193.3 65.9,190.5 74.9,187.1 82.7,183.8 89.2,180.6 95.6,180.6 102.1,182.5 106.8,185 110.4,189.2 112,192.8 109.4,196.2 106.8,198.8 109.4,202.6 107.8,206.5 112,208.3 114.5,211.7 113,215.1 109.4,217.7 104.7,223.4 101.6,228.5 99.5,235 99,240.2 100,245.4 102.1,249.8 106,252.3 116.4,254.4 124.1,255.2 129.3,257.8 133.7,262.2 138.4,260.9 142.2,266.1 143.5,269.4 146.1,264.8 150,260.9 155.2,259.1 160.4,258.3 164.2,260.1 168.1,259.1 173.3,258.3 177.2,259.6 179.2,264.8 180.5,270.5 182.4,271.5 183.6,266.8 182.9,260.9 184.9,255.7 188.8,251.8 194,247.9 197.4,244.1 199.2,238.9 201.8,236.3 205.6,233.2 209.5,230.6 213.4,228 218.6,224.6 222.5,220.8 225.1,222.8 230.2,220.8 236.7,217.7 238.8,215.1 234.1,214.3 231.5,215.6 231,213 235.4,210.4 240.6,209.1 245.8,207.3 250.9,203.9 254.2,200 251.7,195.8 247.5,191.7 245.8,187.5 244.2,182.5 240,185 235.8,185.8 233.3,180 228.3,178.3 222.5,178.3 220,182.5 218.3,187.5 216.7,191.7 213.3,195 209.7,196.7 208.3,201.7 205,204.2 203,200.8 203.3,195 198.3,193.3 193.7,190.8 189.2,189.2 188,185 191.7,180.8 198.3,177.5 205,175 209.2,175 212.5,171.7 215.8,170 220,170.8 223.3,167.5 221.7,164.2 218.3,162.5 215,164.2 212.5,167.5 208.3,166.7 205,164.2 200,165 193.3,165 185,165.5 176.7,166.2 168.3,165.5 163.3,162.5 156.7,160.8 150,159.2 143.5,159.9 135.8,161.2 126.7,162 117.6,160.7 108.6,158.1 102.1,158.1 91.8,159.9 82.7,163.3 81.4,166.4 72.4,169.5 70.5,172.1 78.8,172.9 81.4,174.7 68.5,178.1 62,180.6 60.7,184 64.6,185.8 71.1,186.6 65.9,188.9 55.5,191.8Z" fill="#993404"/>
<path d="M159.2,155.8 166.7,151.7 175,151.3 183.3,153.3 191.7,155 198.3,154.2 201.7,156.7 200,160.8 203.3,162.5 200,164.3 191.7,163.7 183.3,164.5 175,165.2 169.2,164.5 168.3,160.8 161.7,157.5Z" fill="#993404"/>
<path d="M175,146.7 185.8,145 191.7,145.8 200,142.5 208.3,141.7 216.7,142.5 225,139.2 236.7,136.7 250,135.3 266.7,135 277.5,135.8 266.7,138.3 256.7,140.8 250,143.3 243.3,147.5 236.7,150 228.3,150.8 220,150 213.3,148.3 206.7,147.5 200,148.3 191.7,150 183.3,150 178.3,148.3Z" fill="#993404"/>
<path d="M217.5,155 225,152.5 233.3,153.3 240,155.8 246.7,158.3 250.8,162.5 255.8,166.7 252.5,170 248.3,171.7 245.8,175 241.7,176.7 237.5,174.2 233.3,175 228.3,173.3 225,170.8 230,168.3 233.3,165.8 228.3,165 223.3,162.5 220,160 216.7,158.3Z" fill="#993404"/>
<path d="M200,154.2 206.7,152.5 213.3,154.2 216.7,158.3 213.3,163 207.5,163.7 203.3,161.7 201.7,157.5Z" fill="#993404"/>
<path d="M210.8,170.8 216.7,172.5 220,175.8 216.7,175.3 213.3,174.5 210,173.3Z" fill="#993404"/>
<path d="M243.3,211.7 247.5,207.5 250.8,205 252.5,208.3 255,210.8 255.8,215 252.5,215.8 250,213.3 246.7,213.3Z" fill="#993404"/>
<path d="M253.8,145 260,141.2 275,137 300,135 325,134.5 340,136.2 345,138 336.2,140 335,145 330,152.5 325,157.5 322.5,161.2 315,162.5 305,166.2 297.5,170 292.5,175 286.2,181.2 280,182.5 275,178.8 272.5,171.2 273.8,165 272.5,160 276.2,155 272.5,151.2 270,147 262.5,146.2 256.2,147Z" fill="url(#hatch)" stroke="#cfcfcf"/>
<path d="M321.2,170 325,168 331.2,167.5 337.5,168.8 338.8,171.2 335,173.8 328.8,175 323.8,173.8Z" fill="#d95f0e"/>
<path d="M378.8,141.2 385,139.5 393.8,138.8 401.2,140 397.5,142.5 392.5,143.8 388.8,145 383.8,145 380,143.8Z" fill="#d95f0e"/>
<path d="M51.6,169.5 55.5,165.9 60.7,163.3 64.6,166.4 68,167.7 65.9,171.1 60.7,172.9 56.8,173.7 54.2,171.1Z" fill="#fe9929"/>
<path d="M127.2,162 105.2,180.6 107.8,184 111.2,187.1 113.2,191.8 113.8,196.2 112,200.1 113.2,203.9 112.5,207.8" fill="none"/>
<path d="M115.1,210.4 143.5,210.4 172,210.4 177.2,212 181.1,214.3 187.5,216.9 191.4,220.8 192.7,224.6 188.8,228.5 195.3,227.2 201.8,224.6 208.2,222.1 214.7,219.5 219.9,216.1 222.5,213 224.3,216.9 223.2,221.3" fill="none"/>
<path d="M105.3,252.5 111.7,254.2 120,255.3 125.8,255.3 129.2,258.3 132.5,261.7 135.8,261.3 139.2,265 142.5,269.7 144.2,270.3 143.3,275 142.5,280 144.2,285 146.7,288.7 150,290 154.2,288.7 157,285.8 159.2,283 163.3,282 166.7,282.5 165.8,285.8 163.7,289.7 162.5,291.3 158.3,292 155.8,293.3 153.7,295 152.5,298 148.3,295.8 144.2,296.7 138.3,294.2 133.3,291.7 128.3,288.7 125,286.3 124.2,284.2 126.3,280.8 123.3,275 120,270 116.7,265 114.2,260 113,256.3 111.3,255 110,256.7 110.3,260.8 112,266.7 114.7,272.5 116.3,276.3 115.3,277.7 113,275 110.3,270 108,264.2 106.3,258.3Z" fill="#ffffd4"/>
<path d="M152.5,298 153.7,295 155.8,293.3 158.3,292 161.3,291.7 161.7,295 163.7,295.8 160.8,298 159.2,300 155.8,300.8Z" fill="#fed98e"/>
<path d="M160.8,298 163.7,295.8 168.3,295.8 172.5,298 170.8,300 167.5,300.8 165,302.5 162.5,301.7 161.3,300.3Z" fill="#fed98e"/>
<path d="M155.8,300.8 159.2,300 161.3,300.3 162.5,301.7 160,302.5Z" fill="#ffffd4"/>
<path d="M161.7,291.3 163.7,289.2 164,292.5 162,295Z" fill="#ffffd4"/>
<path d="M162.5,301.7 165,302.5 167.5,300.8 170.8,300 172.5,299.2 172,304.2 171.3,309.2 168.3,309.2 165,306.7 163.3,304.2Z" fill="#ffffd4"/>
<path d="M165,309.2 168.3,309.2 171.3,310 173,313.3 172.5,316.3 170,314.2 167.5,312.5 165.8,310.8Z" fill="#fed98e"/>
<path d="M172.5,316.3 173,313.3 175.8,314.7 179.2,313.3 182.5,313 185,315 185.8,318.3 183.3,317 180.8,315.8 178.3,318.3 175.8,318.3Z" fill="#ffffd4"/>
<path d="M171.3,280.3 174.2,278 178.3,277.5 183.3,279.2 188.3,281.7 193.3,284.7 194.7,285.8 190,285.8 186.7,284.2 183.3,282.5 179.2,280 175,280Z" fill="#ffffd4"/>
<path d="M185,289.7 187.5,289.2 190,290.3 187.5,291.3 185.3,291Z" fill="#fed98e"/>
<path d="M194.7,289.2 197.5,287.5 201.7,286.7 205.8,288 207.5,289.7 204.2,290.8 200.8,290.3 197.5,290.8 195,290.3Z" fill="#ffffd4"/>
<path d="M209.7,289.7 213,289.3 213.3,290.7 210,291Z" fill="url(#hatch)" stroke="#cfcfcf"/>
<path d="M186.3,268.3 190,268 190.3,269.3 186.7,269.7Z" fill="#fed98e"/>
<path d="M187,272.5 188.3,272.2 189,275.5 187.7,275.8Z" fill="#fed98e"/>
<path d="M220.3,310 222.5,309.7 222.7,311.7 220.7,311.7Z" fill="#fed98e"/>
<path d="M184.2,318 186.5,314.2 191,310.5 196.2,306.8 199.2,306 200,308.2 202.2,309 206,309.8 210.5,311.2 215,310.5 221,310.5 223.2,312.8 224,316.5 226.2,317.2 229.2,319.5 231.5,322.5 235.2,322.5 239,323.2 240.5,322.5 242.8,324 243.5,327 245,328.5 248,336 254,339.8 260,343.5 267.5,345 275,348 281,351.8 282.5,357 281,363 278,369 275,375 274.2,382.5 273.5,385 270.5,392.5 268.2,397.8 260,400 255.5,404.5 254,407.5 254.8,412.8 251,418 247.2,423.2 246.5,426.2 242,429.2 236.8,427.8 236,430 240.3,434.7 237.9,437.6 233.2,438.8 229.7,440.6 230.3,444.1 226.2,444.7 225.6,446.5 229.1,448.2 227.4,450 226.8,453.5 224.4,456.5 225.6,459.4 229.1,461.8 226.8,466.5 225.6,470 227.4,473.5 229.7,475.9 233.2,478.2 237.4,480 236.8,481.2 232.1,482.4 227.4,481.2 222.6,478.8 217.4,475.9 213.2,471.2 210.3,465.3 208.5,459.4 208.5,453.5 207.9,447.6 206.2,441.8 204.4,435.9 205,430 205.2,415 204.5,400 203.8,385 203.8,387.8 198.5,384 192.5,378 186.5,370.5 182,363 177.5,355.5 176,349.5 176.8,348 177.5,343.5 176,340.5 178.2,336.8 182,333.8 183.5,329.2 182.8,324.8 185,321Z" fill="#fed98e"/>
<path d="M199.2,306 198.5,309 196.2,312 197,315.8 200.8,318.8 205.2,319.5 206.8,322.5 206,327.8 207.5,332.2 209.8,335.2 213.5,333.8 215,329.2 219.5,327.8 223.2,326.2 224,322.5 221.8,319.5 224,316.5 223.2,312.8 221,310.5 215,310.5 210.5,311.2 206,309.8 202.2,309 200.8,311.2 200,313.5 198.5,312 200,308.2Z" fill="#ffffd4"/>
<path d="M224,316.5 221.8,319.5 224,322.5 223.2,326.2 225.5,329.2 226.2,333.8 230,333 231.5,331.5 230,327.8 229.2,324 231.5,322.5 229.2,319.5 226.2,317.2Z" fill="#ffffd4"/>
<path d="M239,323.2 238.2,327 237.5,331.5 240.5,331.5 243.5,327 242.8,324 240.5,322.5Z" fill="url(#hatch)" stroke="#cfcfcf"/>
<path d="M182,333.8 185.8,336 189.5,337.5 188.8,340.5 185.8,345 182,348 179,350.2 176.8,348 177.5,343.5 176,340.5 178.2,336.8Z" fill="#ffffd4"/>
<path d="M176.8,348 179,350.2 182,348 185.8,345 188.8,340.5 189.5,337.5 192.5,339.8 195.5,342 199.2,344.2 200.8,346.5 196.2,351 194,355.5 195.5,360 198.5,363.8 201.5,366 203.8,368.2 205.2,370 204.5,377.5 203.8,385 203.8,387.8 198.5,384 192.5,378 186.5,370.5 182,363 177.5,355.5 176,349.5Z" fill="#ffffd4"/>
<path d="M203.8,368.2 206,364.5 210.5,363.8 213.5,366.8 215,370.5 221,374.2 225.5,378.2 230,382 233,386.5 231.5,390.2 230,388.8 224.8,388.8 221.8,391 221,397 215.8,396.2 211.2,397.8 207.5,392.5 203.8,385 204.5,377.5 205.2,370Z" fill="#ffffd4"/>
<path d="M221.8,391 224.8,388.8 230,388.8 231.5,390.2 233,394 236,397 240.5,400.8 241.7,405.2 239,409.3 233.8,409.8 233,406 230,402.2 225.5,399.2 221.8,396.2Z" fill="#ffffd4"/>
<path d="M207.5,332.2 202.2,333.8 201.5,337.5 202.2,343.5 200.8,346.5" fill="none"/>
<path d="M231.5,331.5 234.5,330.8 237.5,331.5" fill="none"/>
<path d="M231.5,322.5 229.2,324" fill="none"/>
<path d="M207.5,392.5 211.2,397.8 209.8,407.5 207.5,415 209,424 210.5,434.5 210.3,437.1 210.9,444.1 212.6,450 215.6,454.7 216.2,460.6 215.6,466.5 219.1,471.2 223.8,473.5 227.9,474.1" fill="none"/>
<path d="M226.2,474.1 225.6,477.1 226.2,479.4" fill="none"/>
<path d="M239,409.3 242.8,406 242,409 239,413.5 236,416.5" fill="none"/>
<path d="M236,416.5 235.2,421 236,427" fill="none"/>
<path d="M236,416.5 241.2,419.5 246.5,423.2" fill="none"/>
<path d="M460.8,220.8 464.2,217.5 468.3,216.7 471.7,218.3 470,221.7 472.5,224.2 475,226.7 477.5,228.3 478.3,231.7 476.7,234.2 477.5,237.5 478.3,240.8 475,241.7 471.7,240 470,236.7 468.3,234.2 469.2,230 467.5,226.7 464.2,225 461.7,223.3Z" fill="#fff" stroke="none"/>
<path d="M197.8,309.8 199.7,309 200.3,312 199.2,314.6 197.9,312.8Z" fill="#fff" stroke="none"/>
</g>
<g class="lg">
<rect x="244.5" y="537.5" width="48" height="10.5" fill="url(#hatch)" stroke="#bdbdbd" stroke-width="1"/>
<path d="M268.5,533.5V537.5" stroke="#bdbdbd" stroke-width="1" fill="none"/>
<text x="268.5" y="530" text-anchor="middle">No data</text>
<rect x="312.5" y="537" width="58.5" height="11" fill="#ffffd4"/>
<rect x="370.5" y="537" width="59" height="11" fill="#fed98e"/>
<rect x="429.5" y="537" width="58.5" height="11" fill="#fe9929"/>
<rect x="488" y="537" width="58.5" height="11" fill="#d95f0e"/>
<path d="M546.4,537H599.7L605.2,542.5L599.7,548H546.4Z" fill="#993404"/>
<path d="M312.5,537.3H599.7L605.2,542.5L599.7,547.8H312.5Z" fill="none" stroke="#aaa" stroke-width="0.6"/>
<path d="M312.6,532.5V548M370.5,532.5V548M429.5,532.5V548M488,532.5V548M546.4,532.5V548" fill="none" stroke="#8a8a8a" stroke-width="0.6"/>
<text x="312.6" y="530" text-anchor="middle">0</text>
<text x="371" y="530" text-anchor="middle">100</text>
<text x="429.7" y="530" text-anchor="middle">200</text>
<text x="488.3" y="530" text-anchor="middle">500</text>
<text x="547" y="530" text-anchor="middle">1,000</text>
</g>
</svg>
<div class="foot" style="left:16px;letter-spacing:-0.15px"><b>Data source:</b> World Health Organization (2024)</div>
<div class="foot" style="right:15.5px">OurWorldinData.org/illicit-drug-use | CC BY</div>
</body></html>
